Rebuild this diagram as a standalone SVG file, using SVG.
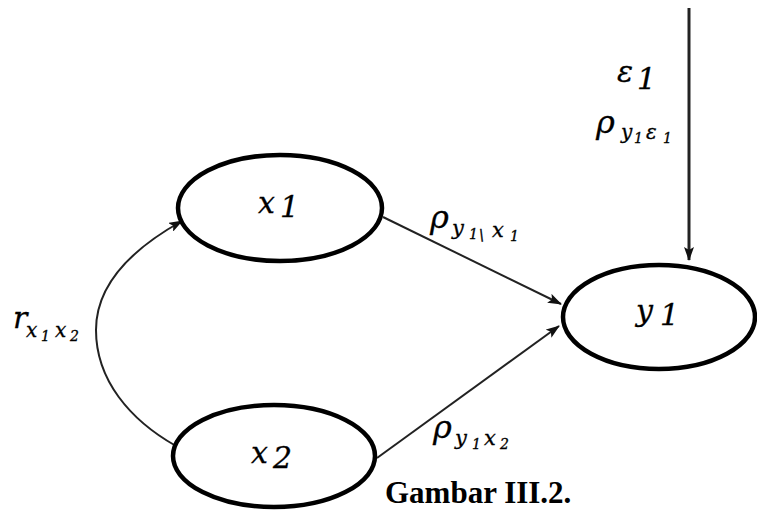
<svg xmlns="http://www.w3.org/2000/svg" width="757" height="511" viewBox="0 0 757 511">
<defs>
<style>
.node{fill:#fff;stroke:#000;stroke-width:4.5}
.edge{fill:none;stroke:#222;stroke-width:2}
.m{font-family:"DejaVu Serif","Liberation Serif",serif;font-style:italic;fill:#000;stroke:#000;stroke-width:0.3}
.cap{font-family:"Liberation Serif","DejaVu Serif",serif;font-weight:bold;font-size:31px;fill:#000}
</style>
<marker id="ah" markerWidth="14" markerHeight="10" refX="13" refY="5" orient="auto" markerUnits="userSpaceOnUse">
<path d="M0,0 L14,5 L0,10 L3,5 Z" fill="#111"/>
</marker>
</defs>
<rect width="757" height="511" fill="#fff"/>
<g id="connectors">
<path class="edge" d="M176 446 C130 420 96 380 96 330 C96 285 130 250 182 221" marker-end="url(#ah)"/>
<line class="edge" x1="383" y1="217" x2="561" y2="304" marker-end="url(#ah)"/>
<line class="edge" x1="377" y1="458" x2="559" y2="326" marker-end="url(#ah)"/>
<line class="edge" x1="689" y1="8" x2="689" y2="260" style="stroke-width:3" marker-end="url(#ah)"/>
</g>
<g id="node-x1">
<ellipse class="node" cx="280" cy="208" rx="102" ry="53"/>
<text class="m" font-size="30"><tspan x="258" y="213">x</tspan><tspan x="280" y="217">1</tspan></text>
</g>
<g id="node-x2">
<ellipse class="node" cx="274" cy="456" rx="101" ry="51"/>
<text class="m" font-size="30"><tspan x="251" y="463">x</tspan><tspan x="273" y="468">2</tspan></text>
</g>
<g id="node-y1">
<ellipse class="node" cx="659" cy="317" rx="96" ry="52"/>
<text class="m" font-size="30"><tspan x="636" y="321">y</tspan><tspan x="660" y="325">1</tspan></text>
</g>
<g id="labels">
<text class="m" font-size="30"><tspan x="617" y="82">ε</tspan><tspan x="637" y="89">1</tspan></text>
<text class="m"><tspan x="596" y="133" font-size="32">ρ</tspan><tspan x="621" y="139" font-size="20">y</tspan><tspan x="634" y="143" font-size="14">1</tspan><tspan x="646" y="139" font-size="20">ε</tspan><tspan x="663" y="143" font-size="14">1</tspan></text>
<text class="m"><tspan x="430" y="228" font-size="32">ρ</tspan><tspan x="452" y="235" font-size="21">y</tspan><tspan x="469" y="239" font-size="14">1</tspan><tspan x="479" y="240" font-size="15">\</tspan><tspan x="492" y="237" font-size="21">x</tspan><tspan x="510" y="241" font-size="14">1</tspan></text>
<text class="m"><tspan x="433" y="438" font-size="32">ρ</tspan><tspan x="455" y="445" font-size="21">y</tspan><tspan x="472" y="449" font-size="14">1</tspan><tspan x="484" y="445" font-size="21">x</tspan><tspan x="500" y="449" font-size="14">2</tspan></text>
<text class="m"><tspan x="13" y="328" font-size="30">r</tspan><tspan x="26" y="337" font-size="20">x</tspan><tspan x="41" y="341" font-size="14">1</tspan><tspan x="55" y="337" font-size="20">x</tspan><tspan x="70" y="341" font-size="14">2</tspan></text>
<text class="cap" x="385" y="503">Gambar III.2.</text>
</g>
</svg>
